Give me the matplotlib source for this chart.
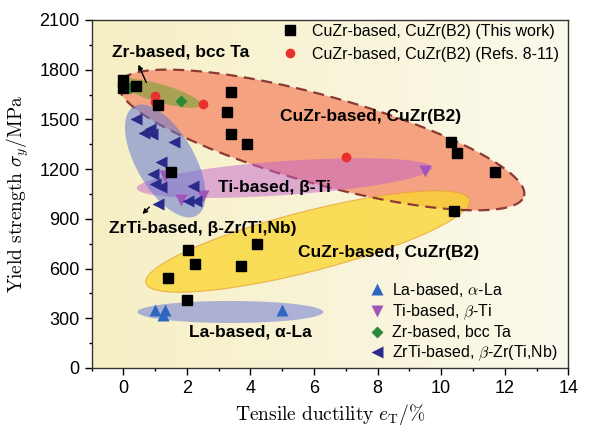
import numpy as np
import matplotlib
matplotlib.use("Agg")
import matplotlib.pyplot as plt
from matplotlib.colors import LinearSegmentedColormap

plt.rcParams['font.family'] = ['Liberation Sans', 'DejaVu Sans']
plt.rcParams['mathtext.fontset'] = 'cm'

# ---- data: tensile ductility (%) and yield strength (MPa) ----
this_work_x = [0.0, 0.0, 0.4, 1.1, 3.4, 3.25, 3.4, 3.9, 1.5,
               10.3, 10.5, 11.7, 10.4, 2.05, 2.25, 4.2, 3.7, 1.4, 2.0]
this_work_y = [1740, 1690, 1700, 1585, 1665, 1545, 1410, 1350, 1185,
               1365, 1300, 1180, 950, 710, 630, 750, 615, 545, 410]

refs_x = [1.0, 1.0, 2.5, 7.0]
refs_y = [1640, 1605, 1590, 1275]

la_x = [1.0, 1.3, 1.25, 5.0]
la_y = [350, 350, 320, 350]

ti_x = [1.3, 1.8, 2.5, 9.5]
ti_y = [1160, 1015, 1040, 1190]

zr_x = [0.2, 1.8]
zr_y = [1690, 1610]

zrti_x = [0.4, 0.65, 0.85, 0.9, 1.6, 1.2, 0.95, 1.0, 1.2, 2.2, 1.1, 2.05, 2.3]
zrti_y = [1500, 1420, 1440, 1410, 1365, 1245, 1170, 1110, 1090, 1100, 990, 1005, 1010]

xticks = [0, 2, 4, 6, 8, 10, 12, 14]
yticks = [0, 300, 600, 900, 1200, 1500, 1800, 2100]

fig = plt.figure(figsize=(5.9, 4.26), dpi=100)
ax = fig.add_axes([0.1551, 0.1362, 0.8081, 0.8169])
ax.set_xlim(-1, 14)
ax.set_ylim(0, 2100)

# cream background with a soft left-to-right fade
bg = LinearSegmentedColormap.from_list('bg', ['#f6efc4', '#fbf9ec'])
ax.imshow(np.linspace(0, 1, 256)[None, :], cmap=bg, aspect='auto',
          extent=(-1, 14, 0, 2100), zorder=0, interpolation='bilinear')


def region(center, a_px, b_px, angle, **kw):
    """Shaded ellipse sized in screen pixels, anchored at a data point."""
    cx, cy = ax.transData.transform(center)
    t = np.linspace(0, 2 * np.pi, 300)
    th = np.deg2rad(angle)
    ex = a_px * np.cos(t)
    ey = b_px * np.sin(t)
    px = cx + ex * np.cos(th) - ey * np.sin(th)
    py = cy + ex * np.sin(th) + ey * np.cos(th)
    pts = ax.transData.inverted().transform(np.column_stack([px, py]))
    return ax.fill(pts[:, 0], pts[:, 1], **kw)[0]


# grouped regions
region((6.24, 1376), 210, 44, -15.5, color='#f4a280', lw=0, zorder=1)
region((5.80, 763), 167, 30, 14.4, facecolor='#fad634', alpha=0.78,
       edgecolor='#e7a43a', lw=0.8, zorder=2)
region((3.37, 338), 93, 11, 0, color='#7a86d6', alpha=0.6, lw=0, zorder=2)
region((6.24, 1376), 210, 44, -15.5, fill=False, edgecolor='#8a3a33',
       lw=1.6, ls=(0, (5, 3)), zorder=3)
region((5.07, 1146), 148, 17, 4, color='#c462cc', alpha=0.5, lw=0, zorder=3)
region((1.13, 1659), 43, 9, -16, color='#7fa03a', alpha=0.65, lw=0, zorder=3)
region((1.32, 1249), 63, 29, -60, color='#6478d2', alpha=0.55, lw=0, zorder=3)

# scatter series
h1, = ax.plot(this_work_x, this_work_y, 's', color='black', ms=7, zorder=6,
              label='CuZr-based, CuZr(B2) (This work)')
h2, = ax.plot(refs_x, refs_y, 'o', color='#e8302e', ms=7, mec='none', zorder=5,
              label='CuZr-based, CuZr(B2) (Refs. 8-11)')
h3, = ax.plot(la_x, la_y, '^', color='#2e66c0', ms=8, mec='none', zorder=5,
              label=r'La-based, $\alpha$-La')
h4, = ax.plot(ti_x, ti_y, 'v', color='#a056b8', ms=8, mec='none', zorder=5,
              label=r'Ti-based, $\beta$-Ti')
h5, = ax.plot(zr_x, zr_y, 'D', color='#2a8a3a', ms=6, mec='none', zorder=5,
              label='Zr-based, bcc Ta')
h6, = ax.plot(zrti_x, zrti_y, '<', color='#2a2a8a', ms=9, mec='none', zorder=5,
              label=r'ZrTi-based, $\beta$-Zr(Ti,Nb)')

# region labels
lab = dict(fontsize=12.5, fontweight='bold', ha='center', va='center', zorder=8)
ax.text(1.80, 1907, 'Zr-based, bcc Ta', **lab)
ax.text(7.78, 1515, 'CuZr-based, CuZr(B2)', **lab)
ax.text(4.76, 1092, 'Ti-based, β-Ti', **lab)
ax.text(2.50, 843, 'ZrTi-based, β-Zr(Ti,Nb)', **lab)
ax.text(8.34, 696, 'CuZr-based, CuZr(B2)', **lab)
ax.text(4.00, 215, 'La-based, α-La', **lab)

arr = dict(arrowstyle='-|>', color='black', lw=1.0, mutation_scale=7)
ax.annotate('', xy=(0.44, 1846), xytext=(0.76, 1707), arrowprops=arr, zorder=8)
ax.annotate('', xy=(0.54, 917), xytext=(0.88, 983), arrowprops=arr, zorder=8)

leg1 = ax.legend(handles=[h1, h2], loc='upper left', bbox_to_anchor=(0.399, 0.9885),
                 frameon=False, fontsize=11.5, handlelength=1.0, handletextpad=0.88,
                 labelspacing=0.5, borderpad=0, borderaxespad=0)
ax.add_artist(leg1)
ax.legend(handles=[h3, h4, h5, h6], loc='upper left', bbox_to_anchor=(0.583, 0.25),
          frameon=False, fontsize=11.5, handlelength=1.0, handletextpad=0.4,
          labelspacing=0.22, borderpad=0, borderaxespad=0)

ax.set_xticks(xticks)
ax.set_yticks(yticks)
ax.set_xticks(np.arange(-1, 15, 1), minor=True)
ax.set_yticks(np.arange(0, 2101, 150), minor=True)
ax.tick_params(which='major', direction='out', length=5, width=1, labelsize=13)
ax.tick_params(which='minor', direction='out', length=2.5, width=1)
for s in ax.spines.values():
    s.set_linewidth(1.0)
    s.set_color('#333333')

ax.set_xlabel(r'$\mathrm{Tensile\ ductility}\ e_{\mathrm{T}}/\%$', fontsize=14, labelpad=4)
ax.set_ylabel(r'$\mathrm{Yield\ strength}\ \sigma_y/\mathrm{MPa}$', fontsize=14, labelpad=6)

fig.savefig('out.png', dpi=100)
